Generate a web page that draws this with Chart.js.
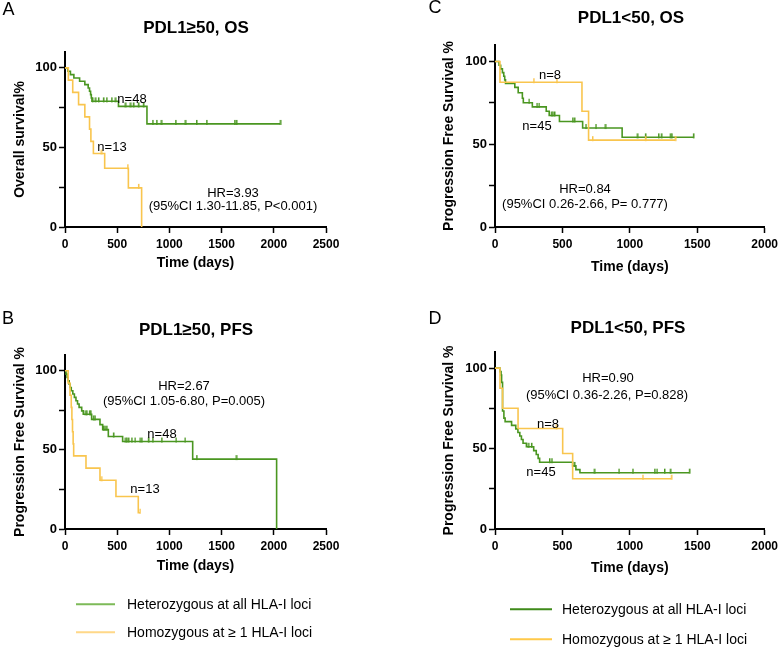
<!DOCTYPE html>
<html><head><meta charset="utf-8">
<script src="https://cdn.jsdelivr.net/npm/chart.js@4.4.1/dist/chart.umd.min.js"></script>
<style>
html,body{margin:0;padding:0;background:#fff;}
#wrap{position:relative;width:782px;height:647px;overflow:hidden;font-family:"Liberation Sans",Arial,Helvetica,sans-serif;}
canvas{position:absolute;left:0;top:0;}
.lg{position:absolute;font-size:14px;color:#000;line-height:16px;white-space:nowrap;transform:translateY(-50%);}
.ln{position:absolute;height:1.5px;transform:translateY(-50%);}
</style></head><body>
<div id="wrap">
<canvas id="cA" width="782" height="647"></canvas>
<canvas id="cB" width="782" height="647"></canvas>
<canvas id="cC" width="782" height="647"></canvas>
<canvas id="cD" width="782" height="647"></canvas>
<div class="ln" style="left:76px;width:39px;top:604px;background:#7dba58"></div>
<div class="lg" style="left:127px;top:604px">Heterozygous at all HLA-I loci</div>
<div class="ln" style="left:76px;width:39px;top:632px;background:#ffd888"></div>
<div class="lg" style="left:127px;top:632px">Homozygous at ≥ 1 HLA-I loci</div>
<div class="ln" style="left:510px;width:42px;top:609px;background:#3f8a1a"></div>
<div class="lg" style="left:562px;top:609px">Heterozygous at all HLA-I loci</div>
<div class="ln" style="left:510px;width:42px;top:639px;background:#ffc94a"></div>
<div class="lg" style="left:562px;top:639px">Homozygous at ≥ 1 HLA-I loci</div>
</div>
<script>
// ---------- DATA ----------
// Panel A: PDL1>=50, OS
const aHetT = [0, 28, 52, 85, 140, 190, 222, 235, 245, 252, 258, 512, 785, 2060];
const aHetS = [100, 97.9, 95.8, 93.7, 91.6, 89.5, 87.4, 85.3, 83.2, 81.1, 79, 75.8, 64.8, 64.8];
const aHetCens = [262, 288, 320, 367, 399, 447, 479, 575, 623, 654, 702, 750, 840, 878, 920, 1060, 1150, 1260, 1357, 1625, 1640, 2060];
const aHomT = [0, 32, 74, 130, 190, 235, 248, 272, 380, 607, 734];
const aHomS = [100, 92.3, 84.6, 76.9, 69.2, 61.5, 53.8, 46.2, 36.9, 24.6, 0];
const aHomCens = [345, 600, 703];
// Panel B: PDL1>=50, PFS
const bHetT = [0, 10, 20, 30, 40, 50, 60, 75, 90, 105, 120, 135, 160, 175, 255, 335, 361, 415, 552, 1223, 2027];
const bHetS = [100, 97.9, 95.8, 93.7, 91.6, 89.5, 87.4, 85.3, 83.2, 81.1, 79, 76.9, 74.7, 72.5, 69.3, 66, 62.8, 58.5, 55.3, 44.2, 0];
const bHetCens = [192, 208, 233, 246, 271, 287, 367, 383, 399, 463, 575, 591, 606, 639, 670, 718, 734, 798, 840, 926, 1063, 1149, 1261, 1638];
const bHomT = [0, 30, 48, 60, 66, 72, 78, 83, 88, 201, 335, 488, 702, 718];
const bHomS = [100, 92.3, 84.6, 76.9, 69.2, 61.5, 53.8, 46.2, 46.2, 38.5, 30.8, 20.5, 10.3, 10.3];
const bHomCens = [345, 718];
// Panel C: PDL1<50, OS
const cHetT = [0, 30, 42, 55, 65, 72, 78, 147, 172, 203, 210, 277, 380, 402, 478, 650, 943, 1471];
const cHetS = [100, 97.8, 95.6, 93.3, 91.1, 88.9, 86.7, 84.4, 81.1, 77.8, 75.1, 72.6, 70, 67.4, 63.8, 59.8, 54.2, 54.2];
const cHetCens = [252, 311, 326, 417, 429, 441, 576, 588, 674, 748, 816, 1054, 1115, 1213, 1233, 1299, 1311, 1471];
const cHomT = [0, 37, 645, 694, 1336];
const cHomS = [100, 87.5, 70, 52.5, 52.5];
const cHomCens = [287, 458, 723, 1115, 1336];
// Panel D: PDL1<50, PFS
const dHetT = [0, 37, 45, 49, 56, 66, 75, 123, 154, 170, 184, 196, 208, 233, 287, 306, 320, 331, 576, 600, 630, 1441];
const dHetS = [100, 97.8, 95.6, 91.1, 73.3, 68.9, 66.7, 64.4, 62.2, 60, 57.8, 55.6, 53.3, 51.1, 48.7, 46.3, 43.9, 41.5, 39.2, 36.9, 35, 35];
const dHetCens = [245, 270, 404, 421, 588, 735, 919, 1022, 1184, 1201, 1257, 1299, 1441];
const dHomT = [0, 37, 56, 171, 502, 576, 1307];
const dHomS = [100, 87.5, 75, 62.5, 46.9, 31.25, 31.25];
const dHomCens = [453, 1096, 1307];
// Ticks
const xTicksAB = [0, 500, 1000, 1500, 2000, 2500];
const xTicksCD = [0, 500, 1000, 1500, 2000];
const yTicks = [0, 25, 50, 75, 100];
const yTickLabels = ['0', '', '50', '', '100'];

// ---------- DRAWING ----------
const FONT = '"Liberation Sans", Arial, Helvetica, sans-serif';
Chart.defaults.font.family = FONT;
Chart.defaults.color = '#000';
const GREEN = '#4a9620';
const YEL = '#f9c54e';
const W = 782, H = 647;

function pts(T, S) { return T.map((t, i) => ({x: t, y: S[i]})); }
function stepAt(T, S, t) { let v = S[0]; for (let i = 0; i < T.length; i++) { if (T[i] <= t) v = S[i]; } return v; }
function cens(T, S, C) { return C.map(t => ({x: t, y: stepAt(T, S, t)})); }

// censor tick glyph: short vertical mark mostly above the curve
function tickGlyph(col) {
  const c = document.createElement('canvas');
  c.width = 3; c.height = 10;
  const x = c.getContext('2d');
  x.fillStyle = col;
  x.fillRect(1, 1, 1.5, 5);
  return c;
}

function textPlugin(texts) {
  return {
    id: 'panelText',
    afterDraw(chart) {
      const ctx = chart.ctx;
      ctx.save();
      ctx.fillStyle = '#000';
      ctx.textBaseline = 'alphabetic';
      texts.forEach(t => {
        const size = t.size || 13;
        ctx.font = (t.bold ? 'bold ' : '') + size + 'px ' + FONT;
        ctx.textAlign = 'center';
        ctx.fillText(t.text, t.x, t.y + 0.36 * size);
      });
      ctx.restore();
    }
  };
}

function makePanel(id, g, het, hom, texts) {
  const lineDs = (T, S, col) => ({type: 'line', data: pts(T, S), borderColor: col, borderWidth: 1.6, stepped: true, pointRadius: 0, fill: false, order: 2});
  const censDs = (T, S, C, col) => ({type: 'scatter', data: cens(T, S, C), showLine: false, pointStyle: tickGlyph(col), pointRadius: 4, pointBorderColor: col, pointBackgroundColor: col, order: 1});
  new Chart(document.getElementById(id), {
    type: 'line',
    data: {datasets: [
      lineDs(hom[0], hom[1], YEL),
      censDs(hom[0], hom[1], hom[2], YEL),
      lineDs(het[0], het[1], GREEN),
      censDs(het[0], het[1], het[2], GREEN)
    ]},
    options: {
      responsive: false, animation: false, events: [],
      layout: {padding: {left: g.left - g.Wy, right: W - g.right, top: g.top, bottom: H - g.bottom - g.Hx}},
      plugins: {legend: {display: false}, tooltip: {enabled: false}, title: {display: false}},
      scales: {
        x: {
          type: 'linear', min: 0, max: g.xTicks[g.xTicks.length - 1],
          afterBuildTicks: s => { s.ticks = g.xTicks.map(v => ({value: v})); },
          afterFit: s => { s.height = g.Hx; },
          ticks: {font: {weight: 'bold', size: 12}, padding: 4, maxRotation: 0, autoSkip: false, color: '#000',
            callback: v => String(v)},
          grid: {drawOnChartArea: false, drawTicks: true, tickLength: 6, tickWidth: 1.5, tickColor: '#000'},
          border: {display: true, color: '#000', width: 2},
          title: {display: true, text: 'Time (days)', font: {weight: 'bold', size: 14}, padding: 0, color: '#000'}
        },
        y: {
          type: 'linear', min: 0, max: 110,
          afterBuildTicks: s => { s.ticks = yTicks.map(v => ({value: v})); },
          afterFit: s => { s.width = g.Wy; },
          ticks: {font: {weight: 'bold', size: 13}, padding: 2, autoSkip: false, color: '#000',
            callback: (v) => { const i = yTicks.indexOf(v); return i >= 0 ? yTickLabels[i] : ''; }},
          grid: {drawOnChartArea: false, drawTicks: true, tickLength: 6, tickWidth: 1.5, tickColor: '#000'},
          border: {display: true, color: '#000', width: 2},
          title: {display: true, text: g.yTitle, font: {weight: 'bold', size: 14}, padding: 0, color: '#000'}
        }
      }
    },
    plugins: [textPlugin(texts)]
  });
}

makePanel('cA', {left: 65, right: 326, top: 52, bottom: 227, Wy: 53, Hx: 44.4, xTicks: xTicksAB, yTitle: 'Overall survival%'},
  [aHetT, aHetS, aHetCens], [aHomT, aHomS, aHomCens],
  [{text: 'A', x: 8.5, y: 9, size: 18},
   {text: 'PDL1≥50, OS', x: 196, y: 27, size: 17, bold: true},
   {text: 'n=48', x: 132, y: 98}, {text: 'n=13', x: 112, y: 146},
   {text: 'HR=3.93', x: 233, y: 192}, {text: '(95%CI 1.30-11.85, P<0.001)', x: 233, y: 205}]);

makePanel('cB', {left: 65, right: 326, top: 355, bottom: 529, Wy: 53, Hx: 45.4, xTicks: xTicksAB, yTitle: 'Progression Free Survival %'},
  [bHetT, bHetS, bHetCens], [bHomT, bHomS, bHomCens],
  [{text: 'B', x: 8, y: 318, size: 18},
   {text: 'PDL1≥50, PFS', x: 196, y: 329, size: 17, bold: true},
   {text: 'HR=2.67', x: 184, y: 385}, {text: '(95%CI 1.05-6.80, P=0.005)', x: 184, y: 400},
   {text: 'n=48', x: 162, y: 433}, {text: 'n=13', x: 145, y: 488}]);

makePanel('cC', {left: 495, right: 767, top: 45, bottom: 227, Wy: 54, Hx: 48.4, xTicks: xTicksCD, yTitle: 'Progression Free Survival %'},
  [cHetT, cHetS, cHetCens], [cHomT, cHomS, cHomCens],
  [{text: 'C', x: 435, y: 7, size: 18},
   {text: 'PDL1<50, OS', x: 631, y: 17, size: 17, bold: true},
   {text: 'n=8', x: 550, y: 74}, {text: 'n=45', x: 537, y: 125},
   {text: 'HR=0.84', x: 585, y: 188}, {text: '(95%CI 0.26-2.66, P= 0.777)', x: 585, y: 203}]);

makePanel('cD', {left: 495, right: 767, top: 352, bottom: 529, Wy: 54, Hx: 47.4, xTicks: xTicksCD, yTitle: 'Progression Free Survival %'},
  [dHetT, dHetS, dHetCens], [dHomT, dHomS, dHomCens],
  [{text: 'D', x: 435, y: 318, size: 18},
   {text: 'PDL1<50, PFS', x: 628, y: 327, size: 17, bold: true},
   {text: 'HR=0.90', x: 608, y: 377}, {text: '(95%CI 0.36-2.26, P=0.828)', x: 607, y: 394},
   {text: 'n=8', x: 548, y: 423}, {text: 'n=45', x: 541, y: 471}]);
</script>
</body></html>
